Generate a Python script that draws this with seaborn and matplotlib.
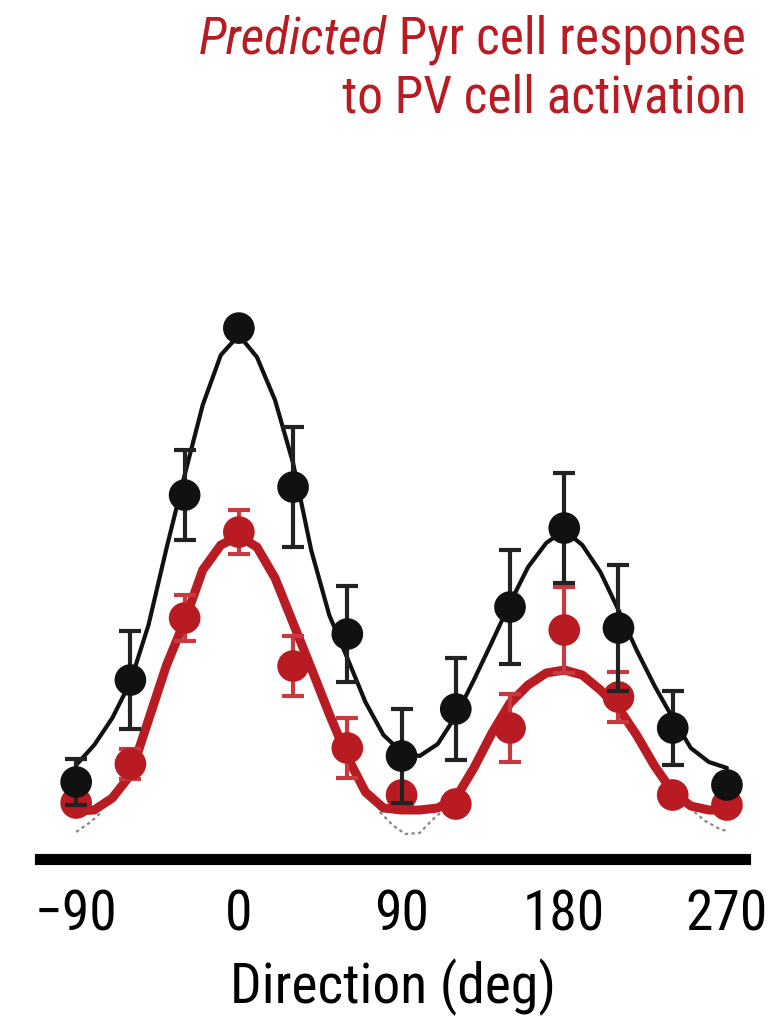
"""
Predicted Pyr cell response to PV cell activation -- direction tuning curves.
"""

import pandas as pd
import matplotlib
matplotlib.use("Agg")
import matplotlib.pyplot as plt
import seaborn as sns

# measured directions (deg) and responses (a.u.)
DIRECTIONS = [-90, -60, -30, 0, 30, 60, 90, 120, 150, 180, 210, 240, 270]
CTRL_RESP = [1.16, 3.20, 6.90, 10.24, 7.06, 4.12, 1.68, 2.62, 4.66, 6.24, 4.24, 2.24, 1.10]
CTRL_SEM = [0.46, 0.98, 0.90, 0.15, 1.20, 0.96, 0.94, 1.02, 1.14, 1.10, 1.26, 0.74, 0.20]
PRED_RESP = [0.74, 1.52, 4.44, 6.16, 3.48, 1.84, 0.90, 0.72, 2.24, 4.20, 2.86, 0.90, 0.70]
PRED_SEM = [0.15, 0.30, 0.46, 0.44, 0.60, 0.60, 0.15, 0.15, 0.68, 0.86, 0.50, 0.15, 0.15]

FIT_DIRS = list(range(-90, 271, 10))
FIT_CTRL = [1.50, 1.90, 2.44, 3.16, 4.30, 5.84, 7.30, 8.70, 9.70, 10.10,
            9.66, 8.80, 7.54, 5.80, 4.50, 3.64, 2.76, 2.10, 1.76, 1.68,
            1.92, 2.48, 3.20, 3.96, 4.74, 5.46, 5.94, 6.20, 5.90, 5.36,
            4.60, 3.80, 3.08, 2.44, 1.84, 1.56, 1.44]
FIT_PRED = [0.58, 0.60, 0.84, 1.30, 2.40, 3.50, 4.38, 5.40, 5.90, 6.08,
            5.86, 5.24, 4.34, 3.44, 2.52, 1.66, 0.96, 0.64, 0.60, 0.60,
            0.64, 0.84, 1.44, 2.14, 2.74, 3.10, 3.34, 3.40, 3.30, 3.00,
            2.64, 2.10, 1.48, 0.96, 0.68, 0.60, 0.60]

# sub-threshold part of the prediction (dashed)
SUB_DIRS = [-90, -82, -76, 78, 85, 92, 100, 107, 112, 252, 258, 266, 270]
SUB_VALS = [0.16, 0.36, 0.56, 0.56, 0.30, 0.12, 0.14, 0.40, 0.56, 0.56, 0.38, 0.22, 0.18]
SUB_SEG = [0, 0, 0, 1, 1, 1, 1, 1, 1, 2, 2, 2, 2]

XTICKS = [-90, 0, 90, 180, 270]

RED = "#b81c22"
BLACK = "#111111"

sns.set_theme(style="white")
plt.rcParams["font.family"] = ["Roboto Condensed", "DejaVu Sans"]

fig = plt.figure(figsize=(7.71, 10.18), dpi=100)
ax = fig.add_axes([0.0519, 0.1562, 0.9144, 0.549])

sub = pd.DataFrame({"dir": SUB_DIRS, "resp": SUB_VALS, "seg": SUB_SEG})
sns.lineplot(data=sub, x="dir", y="resp", units="seg", estimator=None,
             color="#888888", lw=1.6, linestyle=(0, (1.5, 1.5)), ax=ax, zorder=1)

# fits
sns.lineplot(x=FIT_DIRS, y=FIT_CTRL, color=BLACK, lw=3, ax=ax, zorder=2)
sns.lineplot(x=FIT_DIRS, y=FIT_PRED, color=RED, lw=6.5, ax=ax, zorder=2)

# data + error bars
ax.errorbar(DIRECTIONS, PRED_RESP, yerr=PRED_SEM, fmt="none", ecolor="#c93a40",
            elinewidth=3, capsize=8, capthick=3, zorder=3)
sns.scatterplot(x=DIRECTIONS, y=PRED_RESP, s=520, color=RED, edgecolor="none",
                ax=ax, zorder=4)
ax.errorbar(DIRECTIONS, CTRL_RESP, yerr=CTRL_SEM, fmt="none", ecolor="#222222",
            elinewidth=3, capsize=8, capthick=3, zorder=5)
sns.scatterplot(x=DIRECTIONS, y=CTRL_RESP, s=520, color=BLACK, edgecolor="none",
                ax=ax, zorder=6)

ax.set_xlim(-110, 280)
ax.set_ylim(-0.38, 10.8)
ax.set_xticks(XTICKS)
ax.set_xticklabels([f"{t}".replace("-", "\u2212") for t in XTICKS],
                   fontsize=40, color="black")
ax.set_yticks([])
ax.tick_params(axis="x", direction="out", length=6.5, width=2.5,
               color="#555555", pad=15)
ax.set_xlabel("Direction (deg)", fontsize=40, color="black", labelpad=12)
ax.set_ylabel("")
for side in ("left", "top", "right"):
    ax.spines[side].set_visible(False)
ax.spines["bottom"].set_linewidth(8)
ax.spines["bottom"].set_color("black")

# title, right aligned, first word italic
xr = 0.9676
t1 = fig.text(xr, 0.9479, " Pyr cell response", ha="right", va="baseline",
              fontsize=37, color=RED)
fig.text(xr, 0.889, "to PV cell activation", ha="right", va="baseline",
         fontsize=37, color=RED)
fig.canvas.draw()
bb = t1.get_window_extent(renderer=fig.canvas.get_renderer())
fig.text(bb.x0 / fig.bbox.width, 0.9479, "Predicted", ha="right", va="baseline",
         fontsize=37, color=RED, style="italic")

plt.savefig("out.png", dpi=100)
